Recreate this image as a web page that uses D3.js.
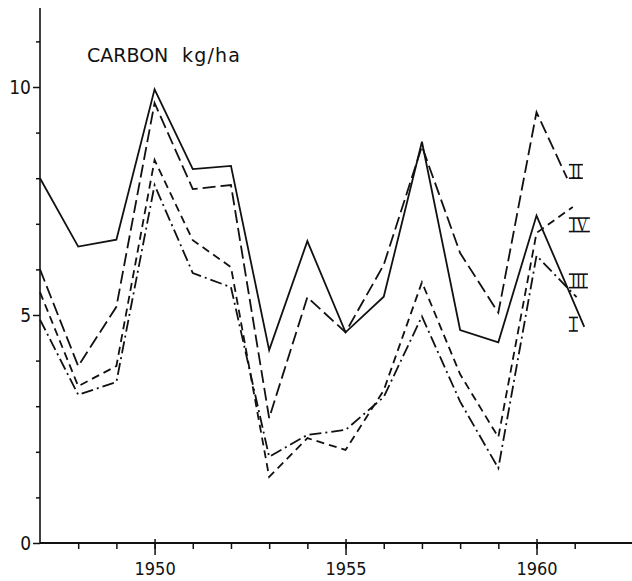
<!DOCTYPE html>
<html>
<head>
<meta charset="utf-8">
<script src="https://cdn.jsdelivr.net/npm/d3@7"></script>
<style>
  body { margin: 0; background: #fff; }
  svg { display: block; }
  .num { font-family: "DejaVu Sans Condensed", "DejaVu Sans", sans-serif; fill: #111; }
</style>
</head>
<body>
<div id="chart"></div>
<script>
// years along the bottom, the last point of each trace stops a little past 1961
var years = [1947, 1948, 1949, 1950, 1951, 1952, 1953, 1954, 1955, 1956, 1957, 1958, 1959, 1960, 1961];
var carbonI   = [8.0, 6.5, 6.65, 9.95, 8.2, 8.27, 4.23, 6.62, 4.62, 5.4, 8.8, 4.67, 4.4, 7.18, 4.74];
var carbonII  = [6.0, 3.88, 5.18, 9.65, 7.76, 7.85, 2.74, 5.39, 4.62, 6.1, 8.7, 6.36, 5.05, 9.45, 8.0];
var carbonIII = [4.9, 3.25, 3.53, 7.85, 5.92, 5.61, 1.89, 2.37, 2.48, 3.2, 4.97, 3.1, 1.64, 6.3, 5.39];
var carbonIV  = [5.5, 3.44, 3.88, 8.4, 6.64, 6.05, 1.45, 2.3, 2.04, 3.35, 5.72, 3.7, 2.32, 6.8, 7.37];
var endYears  = [1961.25, 1960.8, 1961.05, 1960.95];   // I, II, III, IV
var seriesNames = ["I", "II", "III", "IV"];
var dashes = [null, "13,5", "12,4,2,4", "8,5"];

// roman numeral labels, placed in data units [year, value] (baseline, left edge)
var labelPos = [[1960.9, 4.65], [1960.9, 8.0], [1960.9, 5.6], [1960.9, 6.83]];

var minorYears = [1948, 1949, 1950, 1951, 1952, 1953, 1954, 1955, 1956, 1957, 1958, 1959, 1960, 1961];
var majorYears = [1950, 1955, 1960];
var minorC = [1, 2, 3, 4, 6, 7, 8, 9, 11];
var majorC = [0, 5, 10];

var W = 632, H = 581;
var svg = d3.select("#chart").append("svg").attr("width", W).attr("height", H);

var x = d3.scaleLinear().domain([1947, 1962.5]).range([40, 632]);
var y = d3.scaleLinear().domain([0, 10]).range([543, 87]);

// x axis
var xMinor = svg.append("g").attr("transform", "translate(0," + y(0) + ")")
  .call(d3.axisBottom(x).tickValues(minorYears).tickSize(6).tickFormat(""));
xMinor.select(".domain").remove();
var xMajor = svg.append("g").attr("transform", "translate(0," + y(0) + ")")
  .call(d3.axisBottom(x).tickValues(majorYears).tickSizeInner(12).tickSizeOuter(0).tickPadding(5).tickFormat(d3.format("d")));
xMajor.select(".domain").remove();
xMajor.selectAll(".tick line").attr("y1", -4);
xMajor.selectAll("text").attr("class", "num").attr("font-size", 18).attr("dy", "0.85em");
svg.append("line").attr("x1", x(1947)).attr("x2", W).attr("y1", y(0)).attr("y2", y(0))
  .attr("stroke", "#111").attr("stroke-width", 2);

// y axis
var yMinor = svg.append("g").attr("transform", "translate(" + x(1947) + ",0)")
  .call(d3.axisLeft(y).tickValues(minorC).tickSize(4).tickFormat(""));
yMinor.select(".domain").remove();
var yMajor = svg.append("g").attr("transform", "translate(" + x(1947) + ",0)")
  .call(d3.axisLeft(y).tickValues(majorC).tickSize(7).tickPadding(2));
yMajor.select(".domain").remove();
yMajor.selectAll("text").attr("class", "num").attr("font-size", 19);
svg.append("line").attr("x1", x(1947)).attr("x2", x(1947)).attr("y1", y(0)).attr("y2", 8)
  .attr("stroke", "#111").attr("stroke-width", 1.6);

svg.selectAll(".tick line").attr("stroke", "#111").attr("stroke-width", 1.5);

// title
var title = svg.append("text").attr("x", 87).attr("y", 62)
  .attr("font-family", "DejaVu Sans, sans-serif").attr("font-size", 19).attr("fill", "#111");
title.append("tspan").text("CARBON");
title.append("tspan").attr("x", 182).attr("letter-spacing", 1.2).text("kg/ha");

// the four traces
var allSeries = [carbonI, carbonII, carbonIII, carbonIV];
var line = d3.line().x(function(d) { return x(d[0]); }).y(function(d) { return y(d[1]); });

allSeries.forEach(function(vals, k) {
  var pts = vals.map(function(v, i) {
    return [i === vals.length - 1 ? endYears[k] : years[i], v];
  });
  svg.append("path").datum(pts)
    .attr("d", line)
    .attr("fill", "none")
    .attr("stroke", "#111")
    .attr("stroke-width", 1.8)
    .attr("stroke-linejoin", "miter")
    .attr("stroke-dasharray", dashes[k]);
});

// roman numerals at the right, drawn with bars top and bottom like the stencil
var glyphW = { "I": 5, "II": 10, "III": 15, "IV": 17 };
var rl = svg.selectAll(".rlab").data(seriesNames).enter().append("g").attr("class", "rlab");
rl.append("text")
  .attr("x", function(d, i) { return x(labelPos[i][0]); })
  .attr("y", function(d, i) { return y(labelPos[i][1]); })
  .attr("font-family", "Liberation Serif, serif")
  .attr("font-size", 20)
  .attr("fill", "#111")
  .attr("textLength", function(d) { return glyphW[d]; })
  .attr("lengthAdjust", "spacingAndGlyphs")
  .text(function(d) { return d; });
rl.each(function(d, i) {
  var g = d3.select(this);
  var bx = x(labelPos[i][0]), by = y(labelPos[i][1]);
  var top = by - 13.5;
  [top, by].forEach(function(yy) {
    g.append("line").attr("x1", bx - 2).attr("x2", bx + glyphW[d] + 2)
      .attr("y1", yy).attr("y2", yy).attr("stroke", "#111").attr("stroke-width", 1.6);
  });
});
</script>
</body>
</html>
